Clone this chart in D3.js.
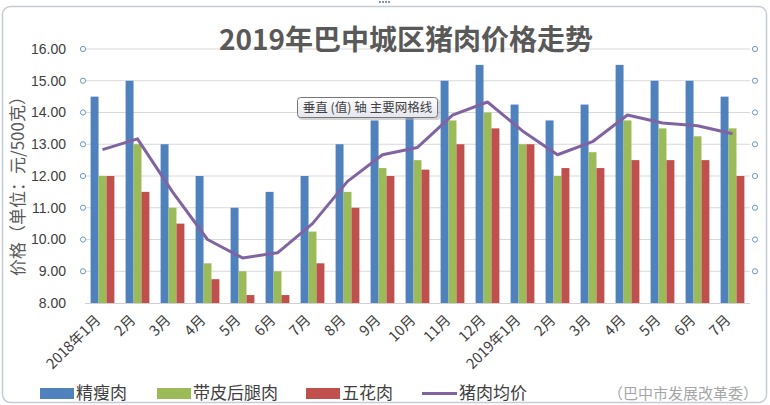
<!DOCTYPE html>
<html><head><meta charset="utf-8">
<script src="https://cdn.jsdelivr.net/npm/d3@7"></script>
<style>body{margin:0;background:#fff;}svg{display:block;font-family:"Noto Sans CJK SC","Microsoft YaHei",sans-serif;}</style>
</head><body><svg id="c" width="770" height="405"></svg>
<script>
const categories=["2018年1月","2月","3月","4月","5月","6月","7月","8月","9月","10月","11月","12月","2019年1月","2月","3月","4月","5月","6月","7月"];
const lean=[14.5,15,13,12,11,11.5,12,13,13.75,14,15,15.5,14.25,13.75,14.25,15.5,15,15,14.5];
const leg=[12,13,11,9.25,9,9,10.25,11.5,12.25,12.5,13.75,14,13,12,12.75,13.75,13.5,13.25,13.5];
const belly=[12,11.5,10.5,8.75,8.25,8.25,9.25,11,12,12.2,13,13.5,13,12.25,12.25,12.5,12.5,12.5,12];
const avg=[12.83,13.17,11.5,10.0,9.42,9.58,10.5,11.83,12.67,12.9,13.92,14.33,13.42,12.67,13.08,13.92,13.67,13.58,13.33];
const yTicks=[8,9,10,11,12,13,14,15,16];
const seriesNames=["精瘦肉","带皮后腿肉","五花肉","猪肉均价"];
const colors=["#4F81BD","#9BBB59","#C0504D","#8064A2"];

const svg=d3.select("#c");
// frame
svg.append("rect").attr("x",2.5).attr("y",6.5).attr("width",764).attr("height",396).attr("rx",8)
  .attr("fill","#fff").attr("stroke","#c3ccd5").attr("stroke-width",1.5);
[0,1,2,3].forEach(k=>svg.append("rect").attr("x",379+k*3).attr("y",1).attr("width",2).attr("height",2).attr("fill","#8a96a3"));

const L=85,R=750,T=49,B=303;
const x=d3.scaleBand().domain(categories.map((c,i)=>i)).range([L,R]).paddingInner(0.32).paddingOuter(0.16);
const y=d3.scaleLinear().domain([8,16]).range([B,T]);
const xs=d3.scaleBand().domain([0,1,2]).range([0,x.bandwidth()]);

// gridlines
svg.append("g").selectAll("line").data(yTicks.filter(d=>d>8)).join("line")
  .attr("x1",L).attr("x2",R).attr("y1",d=>y(d)).attr("y2",d=>y(d))
  .attr("stroke","#d9d9d9").attr("stroke-width",1);
// axis baseline
svg.append("line").attr("x1",L).attr("x2",R).attr("y1",B+0.5).attr("y2",B+0.5).attr("stroke","#d0d0d0");

// selection handles
const hg=svg.append("g");
yTicks.filter(d=>d>8).forEach(d=>{
  [83,755].forEach(cx=>hg.append("circle").attr("cx",cx).attr("cy",y(d)).attr("r",2.6)
    .attr("fill","#fff").attr("stroke","#6c98c6").attr("stroke-width",1));
});

// y tick labels
const yAxis=d3.axisLeft(y).tickValues(yTicks).tickFormat(d3.format(".2f")).tickSize(0).tickPadding(0);
const ya=svg.append("g").attr("transform",`translate(66,0)`).call(yAxis);
ya.select(".domain").remove();
ya.selectAll("text").attr("font-size",14).attr("fill","#404040").attr("font-family","Liberation Sans, Arial, sans-serif");

// bars
const data=[lean,leg,belly];
data.forEach((arr,s)=>{
  svg.append("g").selectAll("rect").data(arr).join("rect")
    .attr("x",(d,i)=>x(i)+xs(s)).attr("width",xs.bandwidth())
    .attr("y",d=>y(d)).attr("height",d=>B-y(d)).attr("fill",colors[s]);
});

// line
const line=d3.line().x((d,i)=>x(i)+x.bandwidth()/2).y(d=>y(d));
svg.append("path").datum(avg).attr("d",line).attr("fill","none").attr("stroke",colors[3]).attr("stroke-width",3).attr("stroke-linejoin","round");

// x labels
svg.append("g").selectAll("text").data(categories).join("text")
  .attr("transform",(d,i)=>`translate(${x(i)+x.bandwidth()/2-1},${B+18}) rotate(-45)`)
  .attr("text-anchor","end").attr("font-size",14.5).attr("fill","#404040").text(d=>d);

// title
svg.append("text").attr("x",406).attr("y",50).attr("text-anchor","middle").attr("font-size",28).attr("font-weight","bold").attr("fill","#595959").text("2019年巴中城区猪肉价格走势");

// y title
svg.append("text").attr("transform","translate(24,182) rotate(-90)").attr("text-anchor","middle").attr("font-size",17).attr("fill","#595959").text("价格（单位：元/500克）");

// legend
const lg=svg.append("g");
const lx=[40,157,306,422];
seriesNames.forEach((n,i)=>{
  if(i<3) lg.append("rect").attr("x",lx[i]).attr("y",388).attr("width",34).attr("height",11).attr("fill",colors[i]);
  else lg.append("line").attr("x1",lx[i]).attr("x2",lx[i]+35).attr("y1",393.5).attr("y2",393.5).attr("stroke",colors[i]).attr("stroke-width",3);
  lg.append("text").attr("x",lx[i]+(i<3?36:37)).attr("y",399).attr("font-size",17).attr("fill","#404040").text(n);
});
svg.append("text").attr("x",758).attr("y",399).attr("text-anchor","end").attr("font-size",15).attr("fill","#a6a6a6").text("（巴中市发展改革委）");

// tooltip
const tg=svg.append("g");
const grad=svg.append("defs").append("linearGradient").attr("id","tg").attr("x1",0).attr("x2",0).attr("y1",0).attr("y2",1);
grad.append("stop").attr("offset","0").attr("stop-color","#ffffff");
grad.append("stop").attr("offset","1").attr("stop-color","#e4e5ee");
tg.append("rect").attr("x",299).attr("y",99).attr("width",141).attr("height",21).attr("rx",3).attr("fill","#aaa").attr("opacity",0.5);
tg.append("rect").attr("x",297.5).attr("y",97.5).attr("width",140).attr("height",20).attr("rx",3).attr("fill","url(#tg)").attr("stroke","#767676");
tg.append("text").attr("x",367.5).attr("y",112).attr("text-anchor","middle").attr("font-size",12.5).attr("fill","#404040").text("垂直 (值) 轴 主要网格线");
</script></body></html>
